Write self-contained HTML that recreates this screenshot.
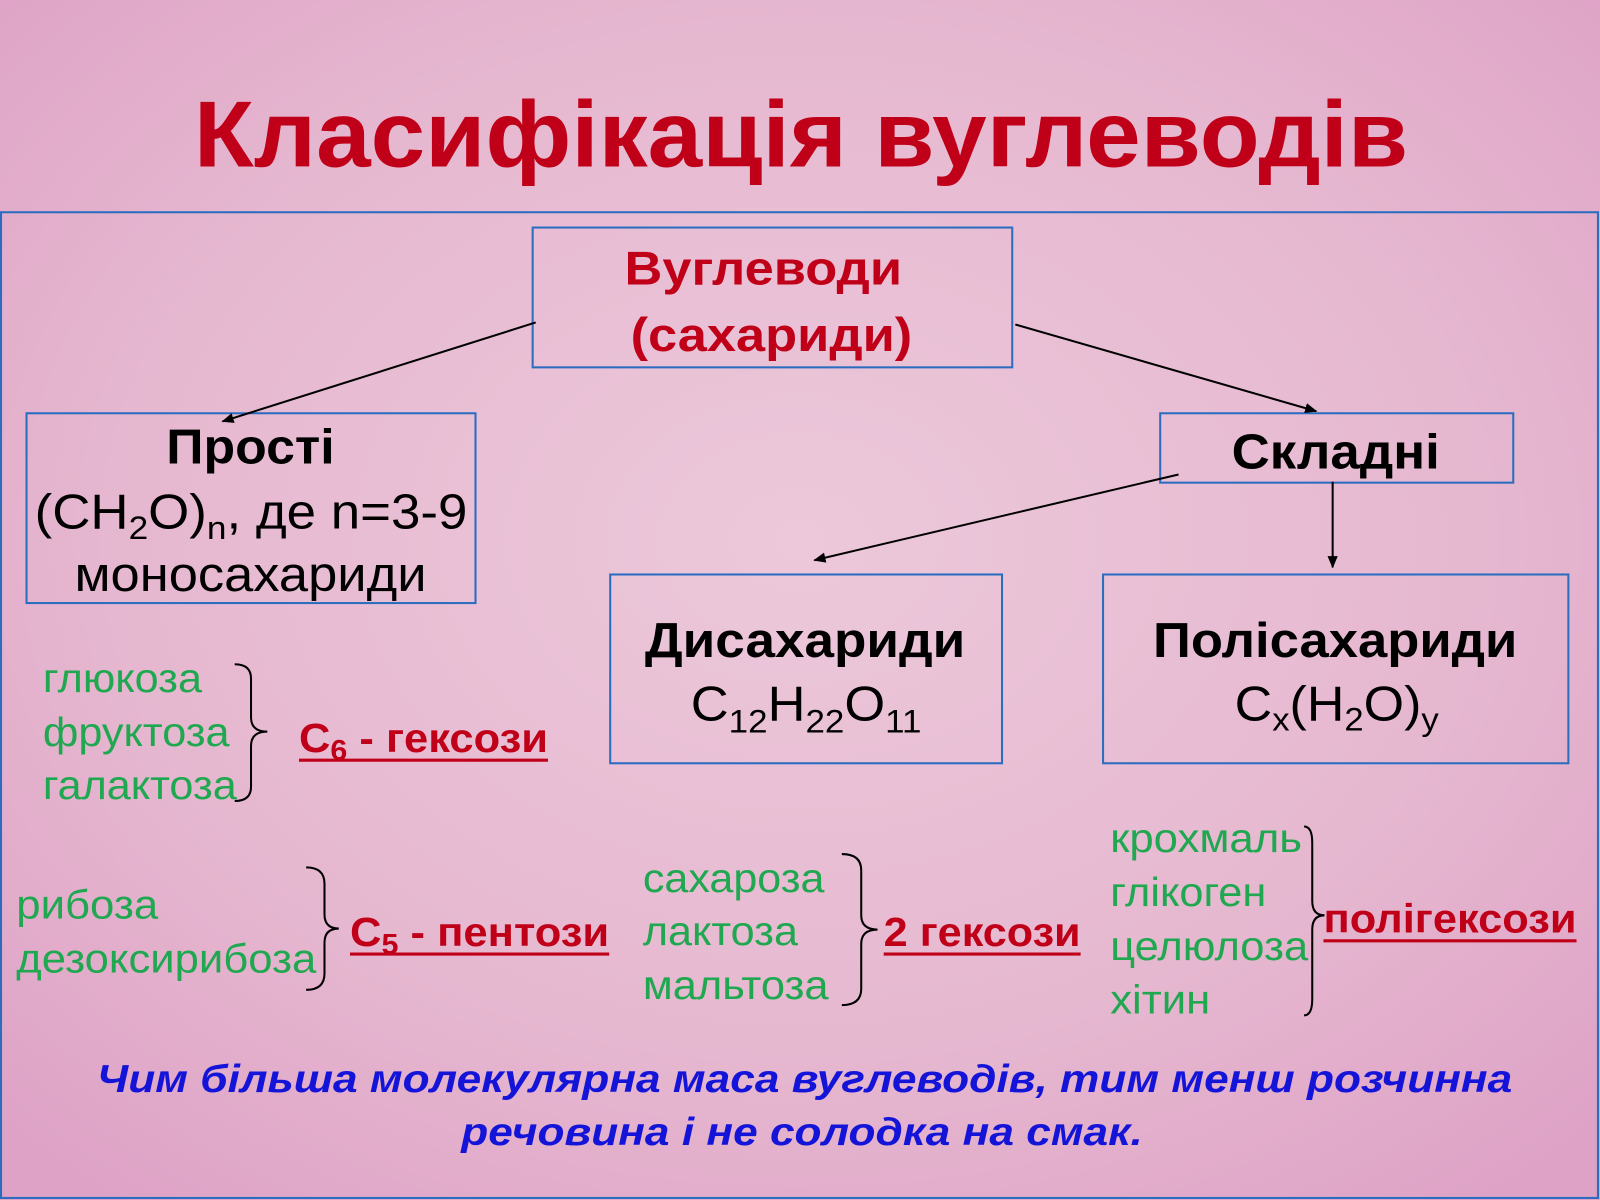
<!DOCTYPE html>
<html><head><meta charset="utf-8"><style>
html,body{margin:0;padding:0;width:1600px;height:1200px;overflow:hidden}
svg{display:block}
text{font-family:"Liberation Sans",Arial,sans-serif}
</style></head><body>
<svg width="1600" height="1200" viewBox="0 0 1568 1176" preserveAspectRatio="none">
<defs>
<radialGradient id="bg" cx="50%" cy="45%" r="70%">
<stop offset="0" stop-color="#ecc8da"/>
<stop offset="0.6" stop-color="#e6b8d0"/>
<stop offset="1" stop-color="#dea2c6"/>
</radialGradient>
<marker id="ar" markerWidth="12" markerHeight="10" refX="11" refY="5" orient="auto" markerUnits="userSpaceOnUse">
<path d="M0,0 L12,5 L0,10 Z" fill="#000"/>
</marker>
</defs>
<rect width="1568" height="1176" fill="url(#bg)"/>
<rect x="1" y="208" width="1565" height="966" fill="none" stroke="#2a6cc0" stroke-width="2"/>
<text x="190" y="163" font-size="92" font-weight="bold" fill="#c00018" textLength="1190" lengthAdjust="spacingAndGlyphs">Класифікація вуглеводів</text>

<g fill="none" stroke="#2a6cc0" stroke-width="2">
<rect x="522" y="223" width="470" height="137"/>
<rect x="26" y="405" width="440" height="186"/>
<rect x="1137" y="405" width="346" height="68"/>
<rect x="598" y="563" width="384" height="185"/>
<rect x="1081" y="563" width="456" height="185"/>
</g>

<g stroke="#000" stroke-width="2" marker-end="url(#ar)">
<line x1="525" y1="316" x2="218" y2="413"/>
<line x1="995" y1="318" x2="1290" y2="403"/>
<line x1="1155" y1="465" x2="798" y2="549"/>
<line x1="1306" y1="472" x2="1306" y2="556"/>
</g>

<g font-size="46" font-weight="bold" fill="#c00018" lengthAdjust="spacingAndGlyphs">
<text x="612" y="279" textLength="272" lengthAdjust="spacingAndGlyphs">Вуглеводи</text>
<text x="618" y="344" textLength="276" lengthAdjust="spacingAndGlyphs">(сахариди)</text>
</g>
<g font-size="48" fill="#000">
<text x="163" y="454" font-weight="bold" textLength="165" lengthAdjust="spacingAndGlyphs">Прості</text>
<text x="34" y="518" textLength="424" lengthAdjust="spacingAndGlyphs">(CH<tspan font-size="32" dy="10">2</tspan><tspan dy="-10">O)</tspan><tspan font-size="32" dy="10">n</tspan><tspan dy="-10">, де n=3-9</tspan></text>
<text x="73" y="579" textLength="345" lengthAdjust="spacingAndGlyphs">моносахариди</text>
<text x="1207" y="459" font-weight="bold" textLength="204" lengthAdjust="spacingAndGlyphs">Складні</text>
<text x="632" y="644" font-weight="bold" textLength="314" lengthAdjust="spacingAndGlyphs">Дисахариди</text>
<text x="677" y="706" textLength="226" lengthAdjust="spacingAndGlyphs">C<tspan font-size="32" dy="12">12</tspan><tspan dy="-12">H</tspan><tspan font-size="32" dy="12">22</tspan><tspan dy="-12">O</tspan><tspan font-size="32" dy="12">11</tspan></text>
<text x="1130" y="644" font-weight="bold" textLength="357" lengthAdjust="spacingAndGlyphs">Полісахариди</text>
<text x="1210" y="706" textLength="200" lengthAdjust="spacingAndGlyphs">C<tspan font-size="32" dy="10">x</tspan><tspan dy="-10">(H</tspan><tspan font-size="32" dy="10">2</tspan><tspan dy="-10">O)</tspan><tspan font-size="32" dy="10">y</tspan></text>
</g>

<g font-size="40" fill="#1fa850">
<text x="42" y="678" textLength="156" lengthAdjust="spacingAndGlyphs">глюкоза</text>
<text x="42" y="731" textLength="183" lengthAdjust="spacingAndGlyphs">фруктоза</text>
<text x="42" y="783" textLength="190" lengthAdjust="spacingAndGlyphs">галактоза</text>
<text x="16" y="900" textLength="139" lengthAdjust="spacingAndGlyphs">рибоза</text>
<text x="16" y="953" textLength="294" lengthAdjust="spacingAndGlyphs">дезоксирибоза</text>
<text x="630" y="874" textLength="178" lengthAdjust="spacingAndGlyphs">сахароза</text>
<text x="630" y="926" textLength="152" lengthAdjust="spacingAndGlyphs">лактоза</text>
<text x="630" y="979" textLength="182" lengthAdjust="spacingAndGlyphs">мальтоза</text>
<text x="1088" y="835" textLength="188" lengthAdjust="spacingAndGlyphs">крохмаль</text>
<text x="1088" y="888" textLength="153" lengthAdjust="spacingAndGlyphs">глікоген</text>
<text x="1088" y="941" textLength="194" lengthAdjust="spacingAndGlyphs">целюлоза</text>
<text x="1088" y="993" textLength="98" lengthAdjust="spacingAndGlyphs">хітин</text>
</g>

<g fill="none" stroke="#000" stroke-width="2">
<path d="M230,651 Q246,651 246,665 L246,703 Q246,717 262,717 Q246,717 246,731 L246,771 Q246,785 230,785"/>
<path d="M300,850 Q318,850 318,866 L318,896 Q318,910 332,910 Q318,910 318,924 L318,954 Q318,970 300,970"/>
<path d="M825,837 Q844,837 844,853 L844,897 Q844,911 860,911 Q844,911 844,925 L844,969 Q844,985 825,985"/>
<path d="M1278,810 Q1286,810 1286,826 L1286,883 Q1286,897 1298,897 Q1286,897 1286,911 L1286,979 Q1286,995 1278,995"/>
</g>

<g font-size="40" font-weight="bold" fill="#c00018">
<text x="293" y="737" textLength="244" lengthAdjust="spacingAndGlyphs">C<tspan font-size="28" dy="8">6</tspan><tspan dy="-8"> - гексози</tspan></text>
<text x="343" y="927" textLength="254" lengthAdjust="spacingAndGlyphs">C<tspan font-size="28" dy="8">5</tspan><tspan dy="-8"> - пентози</tspan></text>
<text x="866" y="927" textLength="193" lengthAdjust="spacingAndGlyphs">2 гексози</text>
<text x="1297" y="914" textLength="248" lengthAdjust="spacingAndGlyphs">полігексози</text>
</g>
<g stroke="#c00018" stroke-width="3">
<line x1="293" y1="745" x2="537" y2="745"/>
<line x1="343" y1="935" x2="597" y2="935"/>
<line x1="866" y1="935" x2="1059" y2="935"/>
<line x1="1297" y1="922" x2="1545" y2="922"/>
</g>

<g font-size="38" font-weight="bold" font-style="italic" fill="#1414d8">
<text x="95" y="1070" textLength="1387" lengthAdjust="spacingAndGlyphs">Чим більша молекулярна маса вуглеводів, тим менш розчинна</text>
<text x="452" y="1122" textLength="668" lengthAdjust="spacingAndGlyphs">речовина і не солодка на смак.</text>
</g>
</svg>
</body></html>
